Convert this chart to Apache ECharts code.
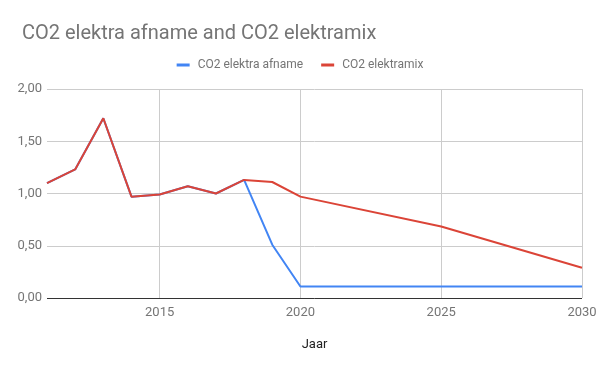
<!DOCTYPE html>
<html>
<head>
<meta charset="utf-8">
<script src="https://cdn.jsdelivr.net/npm/echarts@6/dist/echarts.min.js"></script>
<style>html,body{margin:0;padding:0;background:#fff}#c{width:600px;height:371px}</style>
</head>
<body>
<div id="c"></div>
<script>
var years = [2011, 2012, 2013, 2014, 2015, 2016, 2017, 2018, 2019, 2020, 2025, 2030];
var afname = [1.10, 1.23, 1.72, 0.97, 0.99, 1.07, 1.00, 1.13, 0.51, 0.11, 0.11, 0.11];
var elektramix = [1.10, 1.23, 1.72, 0.97, 0.99, 1.07, 1.00, 1.13, 1.11, 0.97, 0.685, 0.29];
var xTicks = [2015, 2020, 2025, 2030];
var yTicks = [0, 0.5, 1, 1.5, 2];
var seriesNames = ['CO2 elektra afname', 'CO2 elektramix'];

function pairs(xs, ys) { return xs.map(function (x, i) { return [x, ys[i]]; }); }

var chart = echarts.init(document.getElementById('c'));
var font = 'Roboto';
chart.setOption({
  animation: false,
  title: {
    text: 'CO2 elektra afname and CO2 elektramix',
    left: 17, top: 19,
    textStyle: { fontFamily: font, fontSize: 20, fontWeight: 'normal', color: '#757575' }
  },
  legend: {
    data: seriesNames,
    top: 54, left: 'center',
    icon: 'rect', itemWidth: 13, itemHeight: 3, itemGap: 18,
    textStyle: { fontFamily: font, fontSize: 12, color: '#757575', padding: [0, 0, 0, 3] }
  },
  grid: { left: 47, right: 18, top: 89, bottom: 73 },
  xAxis: {
    type: 'value', min: 2011, max: 2030,
    name: 'Jaar', nameLocation: 'middle', nameGap: 40,
    nameTextStyle: { fontFamily: font, fontSize: 13, color: '#222' },
    axisLine: { show: false },
    axisTick: { show: false, customValues: xTicks },
    axisLabel: { customValues: xTicks, fontFamily: font, fontSize: 13, color: '#757575', margin: 8,
      formatter: function (v) { return String(v); } },
    splitLine: { show: true, lineStyle: { color: '#cccccc', width: 1 } }
  },
  yAxis: {
    type: 'value', min: 0, max: 2, interval: 0.5,
    axisLine: { show: false }, axisTick: { show: false },
    axisLabel: {
      fontFamily: font, fontSize: 13, color: '#757575', margin: 5,
      formatter: function (v) { return v.toFixed(2).replace('.', ','); }
    },
    splitLine: { lineStyle: { color: '#cccccc', width: 1 } }
  },
  series: [
    {
      name: seriesNames[0], type: 'line', data: pairs(years, afname),
      symbol: 'none', lineStyle: { color: '#4285F4', width: 2 }, itemStyle: { color: '#4285F4' },
      markLine: {
        silent: true, symbol: 'none', label: { show: false },
        lineStyle: { color: '#333', width: 1, type: 'solid' },
        data: [[{ coord: [2011, 0] }, { coord: [2030, 0] }]]
      }
    },
    {
      name: seriesNames[1], type: 'line', data: pairs(years, elektramix),
      symbol: 'none', lineStyle: { color: '#DB4437', width: 2 }, itemStyle: { color: '#DB4437' }
    }
  ]
});
</script>
</body>
</html>
